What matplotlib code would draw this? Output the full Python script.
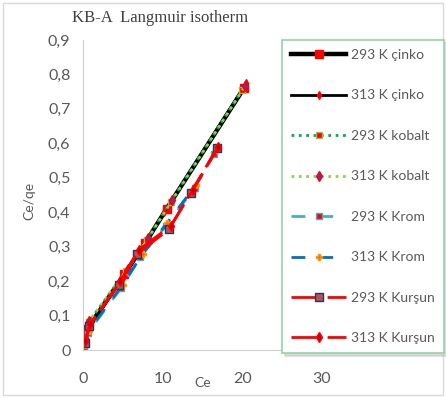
import matplotlib.pyplot as plt
from matplotlib.patches import Rectangle
from matplotlib.ticker import FuncFormatter

# data (Ce, Ce/qe)
ce_zn293 = [0.15, 0.5, 5.2, 7.8, 10.5, 20.2]
y_zn293 = [0.02, 0.06, 0.22, 0.31, 0.41, 0.76]
ce_zn313 = [0.1, 0.4, 5.0, 7.5, 10.2, 20.5]
y_zn313 = [0.01, 0.05, 0.21, 0.30, 0.40, 0.775]
ce_co293 = [0.2, 0.7, 5.4, 8.0, 11.0, 20.0]
y_co293 = [0.03, 0.08, 0.23, 0.32, 0.43, 0.755]
ce_co313 = [0.25, 0.8, 5.6, 8.2, 11.2, 20.3]
y_co313 = [0.035, 0.085, 0.235, 0.325, 0.435, 0.765]
ce_cr293 = [0.1, 0.6, 4.8, 7.2, 10.4, 14.0, 16.5]
y_cr293 = [0.01, 0.05, 0.18, 0.27, 0.36, 0.47, 0.57]
ce_cr313 = [0.2, 0.7, 5.0, 7.5, 10.6, 14.2, 16.7]
y_cr313 = [0.015, 0.055, 0.19, 0.28, 0.37, 0.48, 0.58]
ce_pb293 = [0.3, 0.8, 4.5, 6.8, 10.8, 13.5, 16.8]
y_pb293 = [0.02, 0.07, 0.19, 0.28, 0.35, 0.455, 0.585]
ce_pb313 = [0.2, 0.9, 4.7, 7.0, 11.0, 13.8, 17.0]
y_pb313 = [0.025, 0.075, 0.2, 0.29, 0.36, 0.465, 0.59]

fig = plt.figure(figsize=(4.46, 3.98), dpi=100)
ax = fig.add_axes([0.186, 0.1206, 0.536, 0.779])

ax.plot(ce_zn293, y_zn293, color='black', lw=3.2, marker='s', ms=6, mfc='red', mec='red', label='293 K çinko')
ax.plot(ce_zn313, y_zn313, color='black', lw=2, marker='d', ms=4, mfc='red', mec='red', label='313 K çinko')
ax.plot(ce_co293, y_co293, color='#00b050', lw=2, ls=':', marker='s', ms=5, mfc='red', mec='#9bbb59', label='293 K kobalt')
ax.plot(ce_co313, y_co313, color='#92d050', lw=2, ls=':', marker='d', ms=5, mfc='#7030a0', mec='red', label='313 K kobalt')
ax.plot(ce_cr293, y_cr293, color='#4bacc6', lw=2, ls=(0, (5, 5)), marker='s', ms=5, mfc='red', mec='#4bacc6', label='293 K Krom')
ax.plot(ce_cr313, y_cr313, color='#0070c0', lw=2, ls=(0, (5, 5)), marker='P', ms=5, mfc='#ff6600', mec='#ff9900', label='313 K Krom')
ax.plot(ce_pb293, y_pb293, color='red', lw=2, ls=(0, (10, 3)), marker='s', ms=6, mfc='#c0504d', mec='#1f3864', label='293 K Kurşun')
ax.plot(ce_pb313, y_pb313, color='red', lw=2, ls=(0, (10, 3)), marker='d', ms=5, mfc='#c00000', mec='red', label='313 K Kurşun')

ax.set_xlim(0, 30)
ax.set_ylim(0, 0.9)
ax.set_xticks([0, 10, 20, 30])
ax.set_yticks([i / 10 for i in range(10)])
ax.yaxis.set_major_formatter(FuncFormatter(lambda v, p: ('%.1f' % v).replace('.', ',') if v else '0'))
ax.tick_params(length=0, labelsize=11.5, labelcolor='#595959', labelfontfamily='Lato')
ax.tick_params(axis='y', pad=9)
ax.tick_params(axis='x', pad=16)
for s in ['top', 'right']:
    ax.spines[s].set_visible(False)
for s in ['left', 'bottom']:
    ax.spines[s].set_color('#cfcfcf')

ax.text(0.5, -0.105, 'Ce', transform=ax.transAxes, ha='center', va='center',
        fontsize=10, color='#595959', family='Lato')
ax.text(-0.225, 0.48, 'Ce/qe', transform=ax.transAxes, ha='center', va='center',
        rotation=90, fontsize=10, color='#595959', family='Lato')

fig.text(0.359, 0.955, 'KB-A  Langmuir isotherm', ha='center', va='center',
         fontsize=12, color='#404040', family='Liberation Serif')

leg = fig.legend(loc='upper left', bbox_to_anchor=(0.632, 0.8995), borderaxespad=0,
                 handlelength=4.0, labelspacing=2.05, borderpad=0.65, handletextpad=0.35,
                 fancybox=False, frameon=True,
                 shadow={'color': '#bbbbbb', 'alpha': 0.5},
                 prop={'family': 'Lato', 'size': 10})
leg.get_frame().set_edgecolor('#92d3a8')
leg.get_frame().set_linewidth(1.2)
for t in leg.get_texts():
    t.set_color('#595959')

fig.patches.append(Rectangle((0.007, 0.008), 0.986, 0.984, transform=fig.transFigure,
                             fill=False, edgecolor='#d9d9d9', lw=1))

fig.savefig('out.png', dpi=100)
